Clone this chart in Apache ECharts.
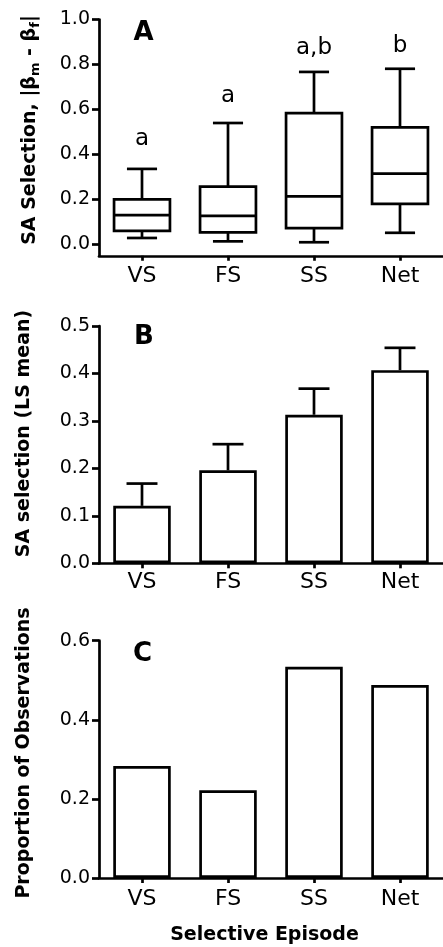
<!DOCTYPE html>
<html><head><meta charset="utf-8">
<script src="https://cdn.jsdelivr.net/npm/echarts@6/dist/echarts.min.js"></script>
<style>html,body{margin:0;padding:0;background:#fff}#c{width:443px;height:947px}</style>
</head><body><div id="c"></div>
<script>
const categories = ['VS', 'FS', 'SS', 'Net'];

// Panel A: box plot summaries (whisker low, Q1, median, Q3, whisker high)
const boxMin = [0.029, 0.014, 0.010, 0.052];
const boxQ1 = [0.061, 0.054, 0.073, 0.181];
const boxMedian = [0.131, 0.127, 0.214, 0.315];
const boxQ3 = [0.201, 0.257, 0.584, 0.521];
const boxMax = [0.336, 0.540, 0.767, 0.781];
const groupLetters = ['a', 'a', 'a,b', 'b'];
const letterY = [0.47, 0.66, 0.875, 0.882];
const ticksA = [0, 0.2, 0.4, 0.6, 0.8, 1.0];

// Panel B: LS means with upper error
const lsMean = [0.121, 0.196, 0.313, 0.407];
const lsMeanUpper = [0.168, 0.251, 0.368, 0.454];

// Panel C: proportion of observations
const proportion = [0.283, 0.222, 0.534, 0.488];

const FONT = '"DejaVu Sans", "Liberation Sans", Arial, sans-serif';
const BLACK = '#000';
const LW = 2.7;

function xAxisFor(idx, margin) {
  return {
    type: 'category', gridIndex: idx, data: categories,
    axisLine: { show: true, onZero: false, lineStyle: { color: BLACK, width: LW } },
    axisTick: { show: true, alignWithLabel: true, length: 5, lineStyle: { color: BLACK, width: LW } },
    axisLabel: { color: BLACK, fontSize: 22, fontFamily: FONT, margin: margin },
    splitLine: { show: false }
  };
}
function yAxisFor(idx, opts) {
  return Object.assign({
    type: 'value', gridIndex: idx,
    axisLine: { show: true, lineStyle: { color: BLACK, width: LW } },
    axisTick: { show: true, length: 7, lineStyle: { color: BLACK, width: LW } },
    axisLabel: { color: BLACK, fontSize: 19, fontFamily: FONT, margin: 9, formatter: v => v.toFixed(1) },
    splitLine: { show: false }
  }, opts);
}

const stroke = { stroke: BLACK, lineWidth: LW, fill: 'none' };

const boxSeries = {
  type: 'custom', xAxisIndex: 0, yAxisIndex: 0, z: 3,
  data: categories.map((c, i) => [i, boxMin[i], boxQ1[i], boxMedian[i], boxQ3[i], boxMax[i]]),
  encode: { x: 0, y: [1, 2, 3, 4, 5] },
  renderItem(params, api) {
    const i = api.value(0);
    const x = api.coord([i, 0])[0];
    const band = api.size([1, 0])[0];
    const bw = band * 0.65, cw = band * 0.35;
    const y = k => api.coord([i, api.value(k)])[1];
    const yMin = y(1), yQ1 = y(2), yMed = y(3), yQ3 = y(4), yMax = y(5);
    return {
      type: 'group', children: [
        { type: 'line', shape: { x1: x, y1: yMax, x2: x, y2: yQ3 }, style: stroke },
        { type: 'line', shape: { x1: x - cw / 2, y1: yMax, x2: x + cw / 2, y2: yMax }, style: stroke },
        { type: 'line', shape: { x1: x, y1: yQ1, x2: x, y2: yMin }, style: stroke },
        { type: 'line', shape: { x1: x - cw / 2, y1: yMin, x2: x + cw / 2, y2: yMin }, style: stroke },
        { type: 'rect', shape: { x: x - bw / 2, y: yQ3, width: bw, height: yQ1 - yQ3 }, style: { stroke: BLACK, lineWidth: LW, fill: '#fff' } },
        { type: 'line', shape: { x1: x - bw / 2, y1: yMed, x2: x + bw / 2, y2: yMed }, style: stroke }
      ]
    };
  }
};

const letterSeries = {
  type: 'custom', xAxisIndex: 0, yAxisIndex: 0, silent: true, z: 4,
  data: categories.map((c, i) => [i, letterY[i]]),
  encode: { x: 0, y: 1 },
  renderItem(params, api) {
    const p = api.coord([api.value(0), api.value(1)]);
    return {
      type: 'text', x: p[0], y: p[1],
      style: { text: groupLetters[params.dataIndex], fill: BLACK, fontSize: 23, fontFamily: FONT,
        align: 'center', verticalAlign: 'middle' }
    };
  }
};

const barStyle = { color: '#fff', borderColor: BLACK, borderWidth: LW };

const errSeries = {
  type: 'custom', xAxisIndex: 1, yAxisIndex: 1, z: 3,
  data: categories.map((c, i) => [i, lsMean[i], lsMeanUpper[i]]),
  encode: { x: 0, y: [1, 2] },
  renderItem(params, api) {
    const i = api.value(0);
    const p0 = api.coord([i, api.value(1)]);
    const p1 = api.coord([i, api.value(2)]);
    const cw = api.size([1, 0])[0] * 0.36;
    return {
      type: 'group', children: [
        { type: 'line', shape: { x1: p0[0], y1: p0[1], x2: p1[0], y2: p1[1] }, style: stroke },
        { type: 'line', shape: { x1: p1[0] - cw / 2, y1: p1[1], x2: p1[0] + cw / 2, y2: p1[1] }, style: stroke }
      ]
    };
  }
};

function vTitle(text, x, y, rich) {
  return {
    type: 'text', x: x, y: y, rotation: Math.PI / 2, silent: true,
    style: Object.assign({ text: text, fill: BLACK, fontSize: 19, fontWeight: 'bold', fontFamily: FONT,
      align: 'center', verticalAlign: 'middle' }, rich ? { rich: rich } : {})
  };
}
function panelLetter(t, x, y) {
  return { type: 'text', x: x, y: y, silent: true,
    style: { text: t, fill: BLACK, fontSize: 26, fontWeight: 'bold', fontFamily: FONT, align: 'center', verticalAlign: 'middle' } };
}

const option = {
  animation: false,
  backgroundColor: '#fff',
  grid: [
    { left: 99, top: 19.5, width: 357, height: 236.25 },
    { left: 99, top: 326, width: 357, height: 237.3 },
    { left: 99, top: 640.7, width: 357, height: 237.3 }
  ],
  xAxis: [xAxisFor(0, 10), xAxisFor(1, 8), xAxisFor(2, 10)],
  yAxis: [
    yAxisFor(0, { min: -0.05, max: 1.0,
      axisTick: { show: true, length: 7, lineStyle: { color: BLACK, width: LW }, customValues: ticksA },
      axisLabel: { color: BLACK, fontSize: 19, fontFamily: FONT, margin: 9, customValues: ticksA, formatter: v => v.toFixed(1) } }),
    yAxisFor(1, { min: 0, max: 0.5, interval: 0.1 }),
    yAxisFor(2, { min: 0, max: 0.6, interval: 0.2 })
  ],
  series: [
    boxSeries,
    letterSeries,
    { type: 'bar', xAxisIndex: 1, yAxisIndex: 1, data: lsMean, barWidth: 57.5, itemStyle: barStyle, z: 2 },
    errSeries,
    { type: 'bar', xAxisIndex: 2, yAxisIndex: 2, data: proportion, barWidth: 57.5, itemStyle: barStyle }
  ],
  graphic: [
    vTitle('{a|SA Selection, |β}{s|m}{a| - β}{s|f}{a||}', 30, 130, {
      a: { fontSize: 19, fontWeight: 'bold', fontFamily: FONT, fill: BLACK, lineHeight: 24, verticalAlign: 'middle' },
      s: { fontSize: 13, fontWeight: 'bold', fontFamily: FONT, fill: BLACK, lineHeight: 12, verticalAlign: 'bottom' }
    }),
    vTitle('SA selection (LS mean)', 24, 433.5),
    vTitle('Proportion of Observations', 24, 753),
    panelLetter('A', 143.5, 33.5),
    panelLetter('B', 144, 337.5),
    panelLetter('C', 142.5, 654),
    { type: 'text', x: 264.5, y: 935, silent: true,
      style: { text: 'Selective Episode', fill: BLACK, fontSize: 19, fontWeight: 'bold', fontFamily: FONT, align: 'center', verticalAlign: 'middle' } }
  ]
};

const chart = echarts.init(document.getElementById('c'), null, { renderer: 'canvas' });
chart.setOption(option);
</script>
</body></html>
